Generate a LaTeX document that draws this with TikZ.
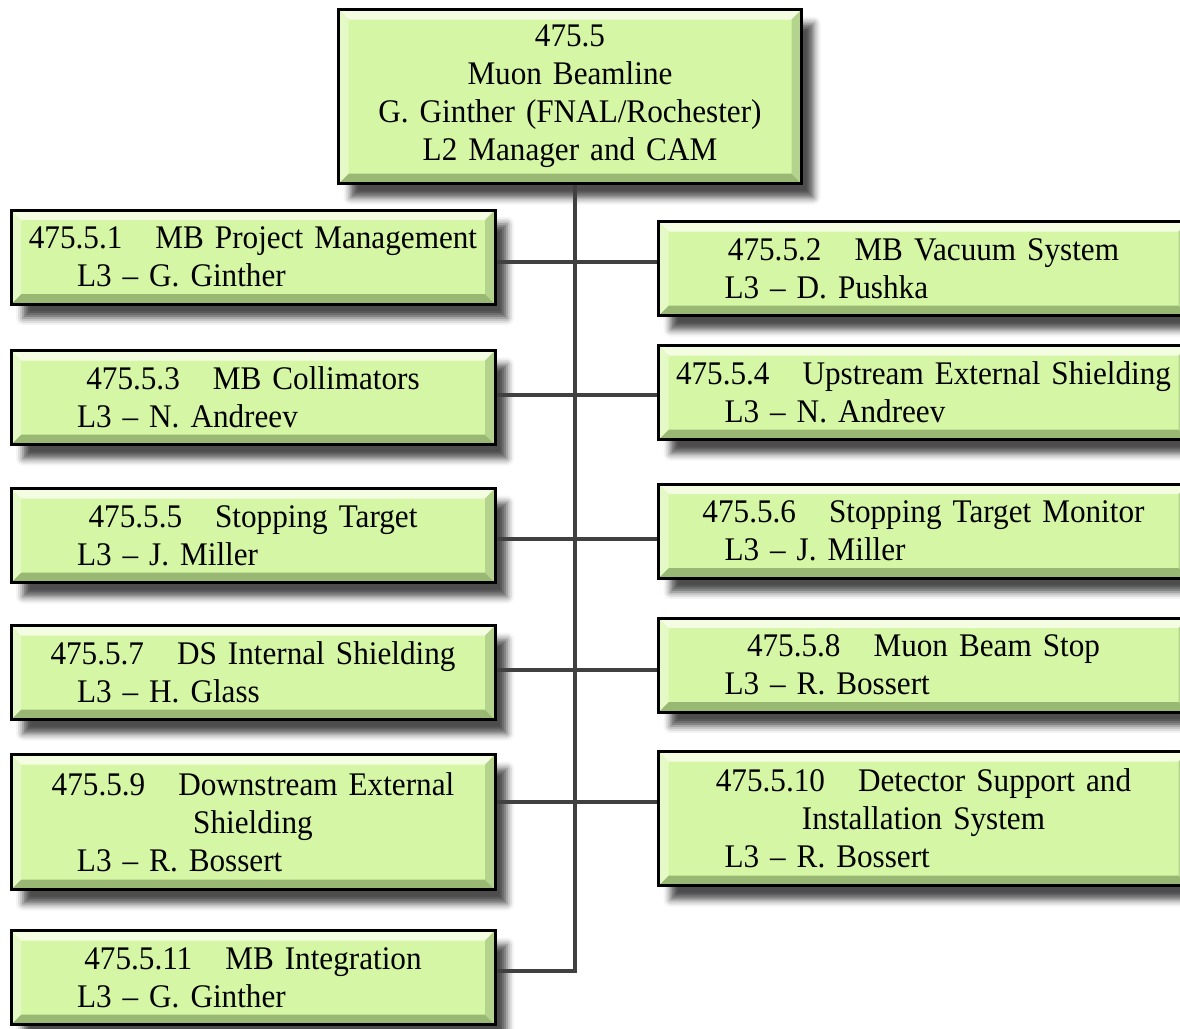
\documentclass[tikz,border=0pt]{standalone}
\usepackage{fontspec}
\setmainfont{Liberation Serif}[FakeStretch=0.945]
\usepackage{tikz}
\usetikzlibrary{shadows.blur}
\definecolor{wbsFill}{HTML}{D5F7A5}
\definecolor{wbsHi}{HTML}{F4FDE2}
\definecolor{wbsMid}{HTML}{E4F9C6}
\definecolor{wbsLo}{HTML}{98B874}
\definecolor{wbsSide}{HTML}{B4D48E}
\definecolor{wbsLink}{HTML}{404040}

% one centred line, one indented L3 line
\newcommand\midline[1]{\makebox[\hsize][c]{#1}}
\newcommand\lthree[1]{\hspace*{66pt}L3 -- #1}

\tikzset{
  wbsbox/.style={draw=black,line width=3pt,fill=wbsFill,inner sep=0pt,
    align=left,font=\fontsize{33}{38}\selectfont,
    blur shadow={shadow xshift=12pt,shadow yshift=-14pt,shadow blur radius=7pt,shadow opacity=70},
    path picture={
      \def\pb{path picture bounding box}
      \fill[wbsHi](\pb.north west)--(\pb.north east)--([shift={(-10pt,-10pt)}]\pb.north east)--([shift={(10pt,-10pt)}]\pb.north west)--cycle;
      \fill[wbsLo](\pb.south west)--(\pb.south east)--([shift={(-10pt,10pt)}]\pb.south east)--([shift={(10pt,10pt)}]\pb.south west)--cycle;
      \fill[wbsMid](\pb.north west)--([shift={(10pt,-10pt)}]\pb.north west)--([shift={(10pt,10pt)}]\pb.south west)--(\pb.south west)--cycle;
      \fill[wbsSide](\pb.north east)--([shift={(-10pt,-10pt)}]\pb.north east)--([shift={(-10pt,10pt)}]\pb.south east)--(\pb.south east)--cycle;
    }},
  leftbox/.style={wbsbox,text width=484pt,minimum height=94pt},
  rightbox/.style={wbsbox,text width=530pt,minimum height=94pt},
  link/.style={wbsLink,line width=4pt},
}

\begin{document}
\begin{tikzpicture}[x=1pt,y=-1pt]
\useasboundingbox (0,0) rectangle (1180,1028);
\node[wbsbox,text width=463pt,minimum height=174pt] (top) at (570,96.5)
  {\midline{475.5}\\\midline{Muon Beamline}\\\midline{G. Ginther (FNAL/Rochester)}\\\midline{L2 Manager and CAM}};
% left column
\node[leftbox] (L1) at (253,257) {\midline{475.5.1\quad MB Project Management}\\\lthree{G. Ginther}};
\node[leftbox] (L3) at (253,397.5) {\midline{475.5.3\quad MB Collimators}\\\lthree{N. Andreev}};
\node[leftbox] (L5) at (253,535.5) {\midline{475.5.5\quad Stopping Target}\\\lthree{J. Miller}};
\node[leftbox] (L7) at (253,672.5) {\midline{475.5.7\quad DS Internal Shielding}\\\lthree{H. Glass}};
\node[leftbox,minimum height=135pt] (L9) at (253,822) {\midline{475.5.9\quad Downstream External}\\\midline{Shielding}\\\lthree{R. Bossert}};
\node[leftbox] (L11) at (253,977.5) {\midline{475.5.11\quad MB Integration}\\\lthree{G. Ginther}};
% right column
\node[rightbox] (R2) at (923.5,268.5) {\midline{475.5.2\quad MB Vacuum System}\\\lthree{D. Pushka}};
\node[rightbox] (R4) at (923.5,392.5) {\midline{475.5.4\quad Upstream External Shielding}\\\lthree{N. Andreev}};
\node[rightbox] (R6) at (923.5,531) {\midline{475.5.6\quad Stopping Target Monitor}\\\lthree{J. Miller}};
\node[rightbox] (R8) at (923.5,665) {\midline{475.5.8\quad Muon Beam Stop}\\\lthree{R. Bossert}};
\node[rightbox,minimum height=134pt] (R10) at (923.5,818.5) {\midline{475.5.10\quad Detector Support and}\\\midline{Installation System}\\\lthree{R. Bossert}};
% connectors
\coordinate (foot) at (575,971);
\draw[link] ([xshift=5pt]top.south) -- (foot) -- (L11.east |- foot);
\foreach \l/\r/\y in {L1/R2/262,L3/R4/395,L5/R6/539,L7/R8/670,L9/R10/802}
  \draw[link] (\l.east |- 0,\y) -- (\r.west |- 0,\y);
\end{tikzpicture}
\end{document}
